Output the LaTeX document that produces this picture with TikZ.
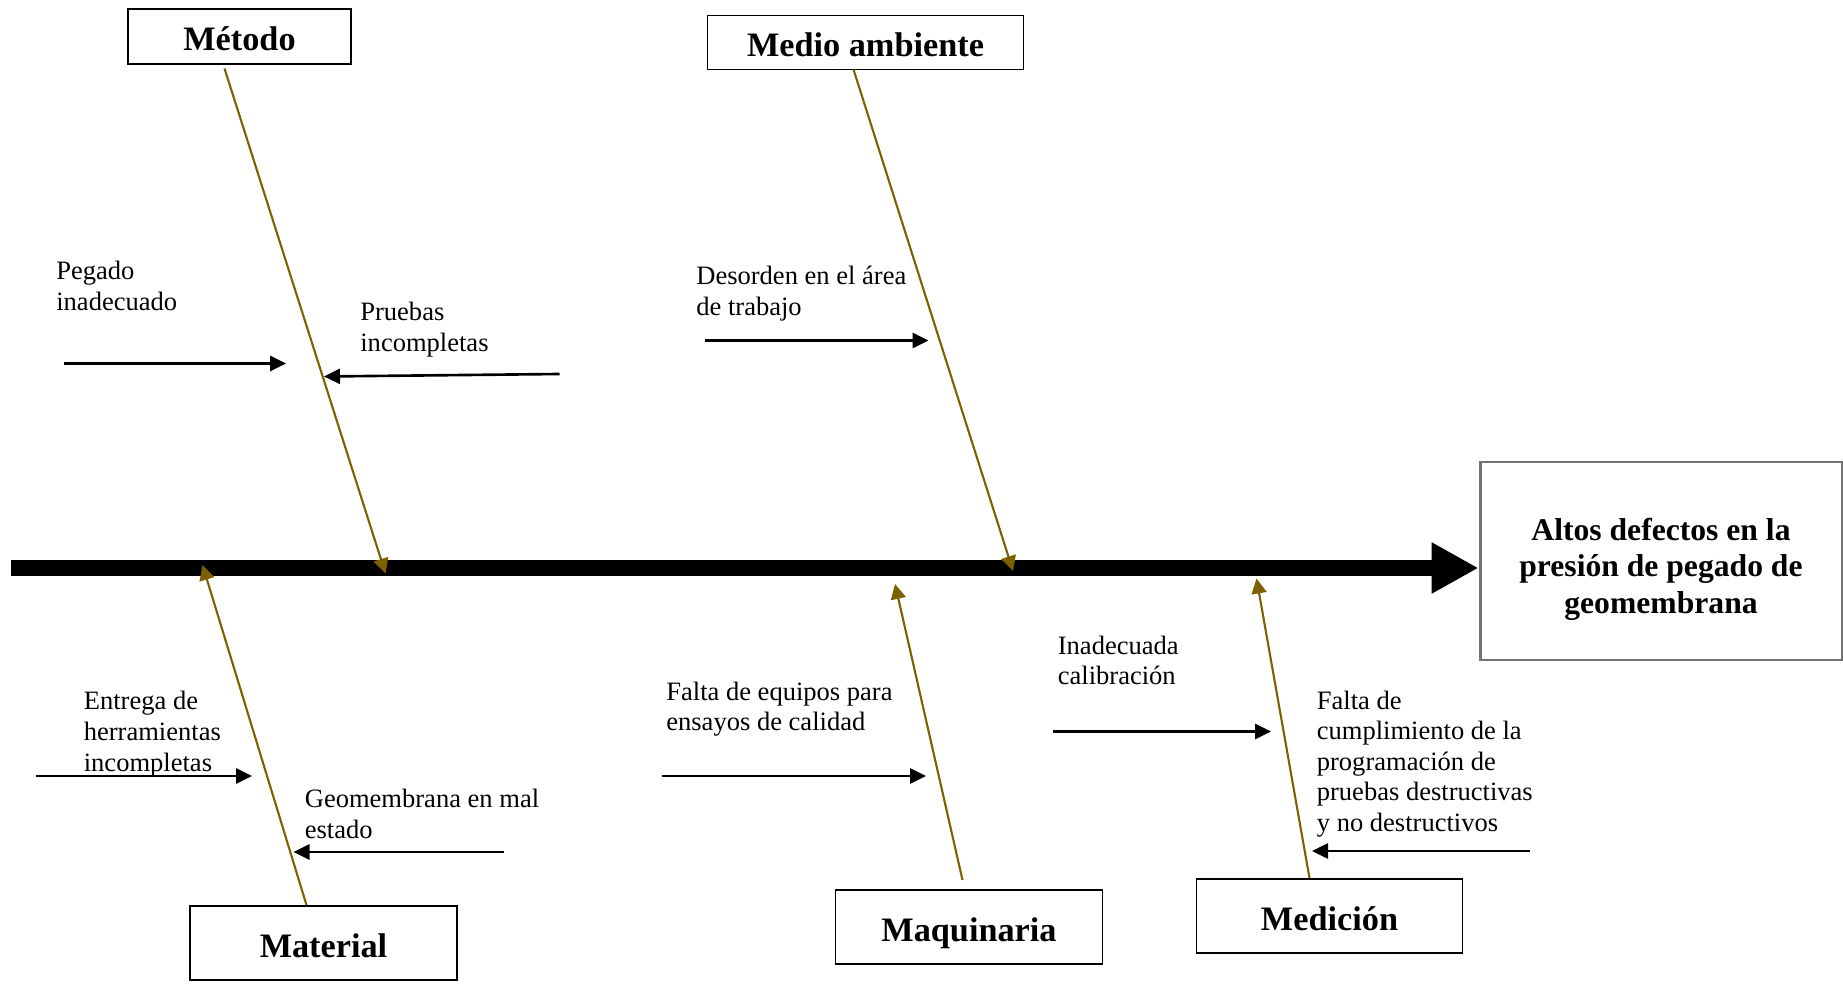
\documentclass[tikz,border=0pt]{standalone}
\usepackage{fontspec}
\setmainfont{Liberation Serif}
\usetikzlibrary{arrows.meta}
\definecolor{BoneBrown}{RGB}{127, 96, 0}
\definecolor{EffectGray}{RGB}{115, 115, 115}

\begin{document}
\begin{tikzpicture}[
                cat/.style={draw, line width=1pt, font=\fontsize{19.5}{22}\selectfont\bfseries, align=center, inner sep=0pt, text height=16pt, text depth=0pt},
                cause/.style={anchor=base west, font=\fontsize{15.1}{17.4}\selectfont, align=left, inner sep=0pt},
                bone/.style={draw=BoneBrown, line width=1.2pt, -{Triangle[length=0.3cm, width=0.3cm]}},
                twig/.style={draw, line width=1.5pt, -{Triangle[length=0.32cm, width=0.3cm]}},
                effect/.style={draw=EffectGray, line width=1.7pt, minimum width=7.24cm, minimum height=3.96cm},
                efftext/.style={font=\fontsize{18}{20.8}\selectfont\bfseries, align=center, inner sep=0pt}
            ]
                \useasboundingbox (0, 0) rectangle (36.86, -19.70);

                % Effect and spine (multi-line nodes sit on their last baseline)
                \node[effect] (effect) at (33.22, -11.22) {};
                \node[efftext] (efftitle) at ([yshift=-0.16cm]effect.center) {Altos defectos en la\\presión de pegado de\\geomembrana};
                \coordinate (spine) at (0.22, -11.36);
                \draw[line width=0.32cm, -{Triangle[length=0.94cm, width=0.96cm]}] (spine) -- (spine -| effect.west);

                % Categories
                \node[cat, minimum width=4.46cm, minimum height=1.10cm] (metodo) at (4.79, -0.73) {Método};
                \node[cat, minimum width=6.32cm, minimum height=1.08cm] (ambiente) at (17.31, -0.85) {Medio ambiente};
                \node[cat, minimum width=5.34cm, minimum height=1.48cm] (material) at (6.47, -18.86) {Material};
                \node[cat, minimum width=5.34cm, minimum height=1.48cm] (maquinaria) at (19.38, -18.54) {Maquinaria};
                \node[cat, minimum width=5.32cm, minimum height=1.48cm] (medicion) at (26.59, -18.32) {Medición};

                % Bones
                \coordinate (metodo-a) at (4.49, -1.37);
                \coordinate (metodo-b) at (7.71, -11.47);
                \coordinate (ambiente-a) at (17.07, -1.39);
                \coordinate (ambiente-b) at (20.26, -11.42);
                \coordinate (material-a) at (6.13, -18.10);
                \coordinate (material-b) at (4.05, -11.30);
                \coordinate (maquinaria-a) at (19.25, -17.60);
                \coordinate (maquinaria-b) at (17.90, -11.68);
                \coordinate (medicion-a) at (26.19, -17.56);
                \coordinate (medicion-b) at (25.13, -11.57);
                \draw[bone] (metodo-a) -- (metodo-b);
                \draw[bone] (ambiente-a) -- (ambiente-b);
                \draw[bone] (material-a) -- (material-b);
                \draw[bone] (maquinaria-a) -- (maquinaria-b);
                \draw[bone] (medicion-a) -- (medicion-b);

                % Metodo causes
                \node[cause] (pegado) at (1.12, -6.21) {Pegado\\inadecuado};
                \node[cause] (pruebas) at (7.20, -7.03) {Pruebas\\incompletas};
                \coordinate (pegado-a) at (1.27, -7.27);
                \coordinate (pegado-b) at (5.72, -7.27);
                \coordinate (pruebas-a) at (11.19, -7.48);
                \coordinate (pruebas-b) at (6.48, -7.53);
                \draw[twig] (pegado-a) -- (pegado-b);
                \draw[twig] (pruebas-a) -- (pruebas-b);

                % Medio ambiente causes
                \node[cause] (desorden) at (13.92, -6.31) {Desorden en el área\\de trabajo};
                \coordinate (desorden-a) at (14.10, -6.81);
                \coordinate (desorden-b) at (18.57, -6.81);
                \draw[twig] (desorden-a) -- (desorden-b);

                % Material causes
                \node[cause] (entrega) at (1.67, -15.42) {Entrega de\\herramientas\\incompletas};
                \node[cause] (geomem) at (6.09, -16.77) {Geomembrana en mal\\estado};
                \coordinate (entrega-a) at (0.72, -15.52);
                \coordinate (entrega-b) at (5.04, -15.52);
                \coordinate (geomem-a) at (10.07, -17.04);
                \coordinate (geomem-b) at (5.87, -17.04);
                \draw[twig] (entrega-a) -- (entrega-b);
                \draw[twig] (geomem-a) -- (geomem-b);

                % Maquinaria causes
                \node[cause] (equipos) at (13.32, -14.62) {Falta de equipos para\\ensayos de calidad};
                \coordinate (equipos-a) at (13.23, -15.52);
                \coordinate (equipos-b) at (18.52, -15.52);
                \draw[twig] (equipos-a) -- (equipos-b);

                % Medicion causes
                \node[cause] (calib) at (21.15, -13.70) {Inadecuada\\calibración};
                \node[cause] (cumpl) at (26.33, -16.63) {Falta de\\cumplimiento de la\\programación de\\pruebas destructivas\\y no destructivos};
                \coordinate (calib-a) at (21.05, -14.63);
                \coordinate (calib-b) at (25.42, -14.63);
                \coordinate (cumpl-a) at (30.59, -17.02);
                \coordinate (cumpl-b) at (26.24, -17.02);
                \draw[twig] (calib-a) -- (calib-b);
                \draw[twig] (cumpl-a) -- (cumpl-b);
            \end{tikzpicture}
\end{document}
